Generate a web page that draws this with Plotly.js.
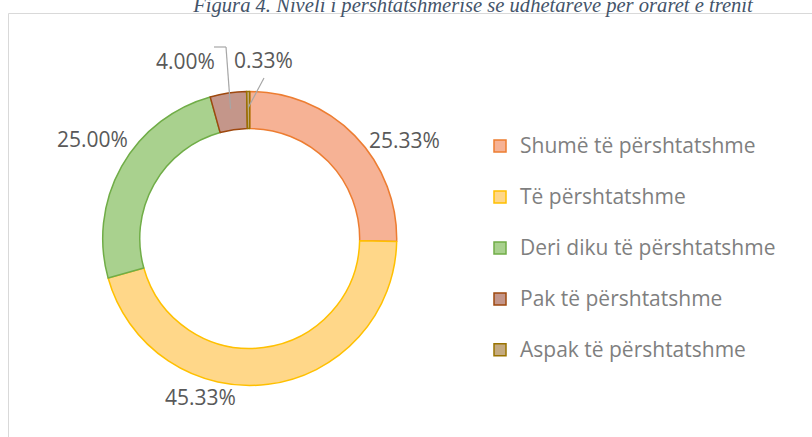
<!DOCTYPE html>
<html><head><meta charset="utf-8">
<script src="https://cdn.plot.ly/plotly-3.0.1.min.js"></script>
<style>html,body{margin:0;padding:0;background:#fff;} #chart{width:812px;height:437px;}</style>
</head><body><div id="chart"></div>
<script>
// ---- data ----
const categories = ["Shumë të përshtatshme", "Të përshtatshme", "Deri diku të përshtatshme", "Pak të përshtatshme", "Aspak të përshtatshme"];
const percentages = [25.33, 45.33, 25.00, 4.00, 0.33];
const titleText = "Figura 4. Niveli i përshtatshmërisë së udhëtarëve për oraret e trenit";

// ---- styles ----
const fillColors = ["#F6B295", "#FFD789", "#A9D18E", "#C4968A", "#C4AA80"];
const lineColors = ["#ED7D31", "#FFC000", "#70AD47", "#9E480E", "#997300"];

const W = 812, H = 437;
const px = x => x / W;
const py = y => 1 - y / H;
const cx = 249.7, cy = 238.5, R = 147;

// label centres (px) for each slice's value label
const labelPos = [[404.5, 140], [200, 397], [92, 139], [185, 61], [263.5, 60]];

const total = percentages.reduce((a, b) => a + b, 0);
function slicePoint(i, r) {
  let before = 0;
  for (let k = 0; k < i; k++) before += percentages[k];
  const mid = (before + percentages[i] / 2) / total * 2 * Math.PI;
  return [cx + r * Math.sin(mid), cy - r * Math.cos(mid)];
}

const trace = {
  type: 'pie',
  labels: categories.map(c => '<span style="font-size:21px">' + c + '</span><br> '),
  values: percentages,
  sort: false,
  direction: 'clockwise',
  rotation: 0,
  hole: 0.748,
  textinfo: 'none',
  hoverinfo: 'none',
  marker: { colors: fillColors, line: { color: lineColors, width: 1.5 } },
  domain: { x: [px(cx - R), px(cx + R)], y: [py(cy + R), py(cy - R)] }
};

const annotations = percentages.map((v, i) => ({
  xref: 'paper', yref: 'paper',
  x: px(labelPos[i][0]), y: py(labelPos[i][1]),
  xanchor: 'center', yanchor: 'middle',
  text: v.toFixed(2) + '%', showarrow: false,
  font: { family: 'Open Sans', size: 21, color: '#595959' }
}));

function seg(a, b) {
  return { type: 'line', xref: 'paper', yref: 'paper',
    x0: px(a[0]), y0: py(a[1]), x1: px(b[0]), y1: py(b[1]),
    line: { color: '#A6A6A6', width: 1.2 } };
}
const p3 = slicePoint(3, 131), p4 = slicePoint(4, 131);
const shapes = [
  { type: 'rect', xref: 'paper', yref: 'paper', x0: px(8.5), x1: 1.05, y0: -0.05, y1: py(13.5),
    line: { color: '#D9D9D9', width: 1 }, fillcolor: 'rgba(0,0,0,0)', layer: 'below' },
  seg([214, 47], [226, 47]), seg([226, 47], p3),
  seg([264, 78], p4)
];

const layout = {
  width: W, height: H,
  margin: { l: 0, r: 0, t: 0, b: 0 },
  paper_bgcolor: '#fff',
  font: { family: 'Open Sans', color: '#7F7F7F' },
  title: { text: '<i>' + titleText + '</i>', xref: 'container', yref: 'container',
    x: 473 / W, xanchor: 'center', y: 1 - 11.5 / H, yanchor: 'bottom',
    font: { family: 'Liberation Serif', size: 20.6, color: '#44546A' } },
  showlegend: true,
  legend: { x: px(480), xanchor: 'left', y: py(127.5), yanchor: 'top',
    font: { family: 'Open Sans', size: 18.45, color: '#7F7F7F' },
    valign: 'top', bgcolor: 'rgba(0,0,0,0)' },
  annotations: annotations,
  shapes: shapes
};

Plotly.newPlot('chart', [trace], layout, { displayModeBar: false, staticPlot: true });
</script></body></html>
